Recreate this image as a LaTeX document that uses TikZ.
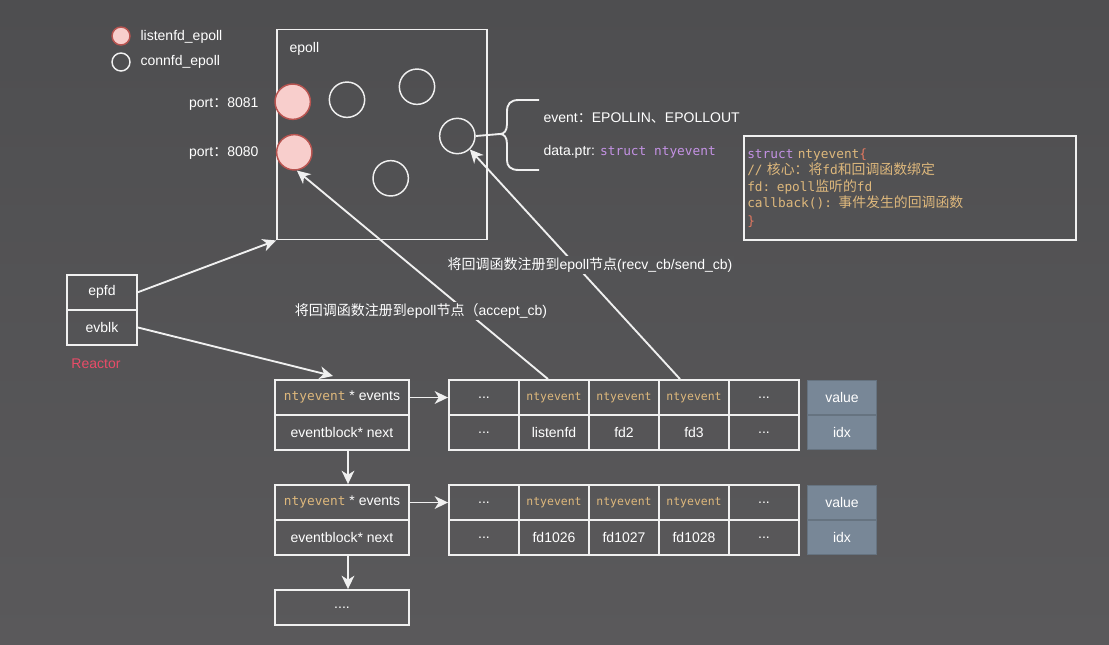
\documentclass[tikz,border=0pt]{standalone}
\usepackage{fontspec}
\setmainfont{Liberation Sans}
\setmonofont{DejaVu Sans Mono}
\newfontfamily\cjk{Noto Sans CJK SC}
\usetikzlibrary{arrows.meta}

\definecolor{fondo}{RGB}{78,78,80}
\definecolor{fondob}{RGB}{90,89,91}
\colorlet{fondom}{fondo!55!fondob}
\definecolor{linea}{RGB}{240,240,240}
\definecolor{rosa}{RGB}{248,206,204}
\definecolor{rosaborde}{RGB}{184,84,80}
\definecolor{tipo}{RGB}{222,184,124}
\definecolor{clave}{RGB}{196,146,228}
\definecolor{llave}{RGB}{226,120,96}
\definecolor{pizarra}{RGB}{120,135,151}
\definecolor{rojo}{RGB}{233,76,104}

\newcommand{\nty}{{\ttfamily\fontsize{9.6}{12}\selectfont\color{tipo}ntyevent}}
\newcommand{\ntyc}{{\ttfamily\fontsize{8.6}{10}\selectfont\color{tipo}ntyevent}}
\newcommand{\cjkc}{\cjk\fontsize{10.4}{12.4}\selectfont}

\begin{document}
\begin{tikzpicture}[x=0.75pt,y=-0.75pt,
    >={Stealth[length=10pt,width=9.5pt,inset=3pt]},
    texto/.style={text=white,font=\fontsize{10.5}{12}\selectfont,inner sep=1pt},
    caja/.style={texto,draw=linea,line width=1.4pt,minimum height=26.25pt,inner sep=0pt},
    celda/.style={caja,minimum width=52.5pt},
    ancha/.style={caja,minimum width=100.5pt},
    tabla/.style={texto,draw=pizarra!85!black,fill=pizarra,line width=0.8pt,minimum width=51.75pt,minimum height=25.5pt},
    conn/.style={circle,draw=linea,line width=1.1pt,minimum size=26.5pt,inner sep=0pt},
    listen/.style={circle,draw=rosaborde,fill=rosa,line width=1.1pt,minimum size=26.5pt,inner sep=0pt},
    flecha/.style={draw=linea,line width=1.4pt,->}]

    % Fondo
    \shade[top color=fondo,bottom color=fondob] (0,0) rectangle (1109,644);
    \useasboundingbox (0,0) rectangle (1109,644);

    % Leyenda
    \node[listen,minimum size=13.5pt] (leyl) at (121,36) {};
    \node[texto,anchor=west] (leylt) at (139,37) {listenfd\_epoll};
    \node[conn,minimum size=13.5pt] (leyc) at (121,62) {};
    \node[texto,anchor=west] (leyct) at (139,62) {connfd\_epoll};

    % Caja epoll con sus nodos
    \node[draw=linea,line width=1.4pt,minimum size=157.5pt,inner sep=0pt] (epoll) at (382,134.5) {};
    \node[texto,anchor=west] (epollt) at (288,49) {epoll};
    \node[listen] (p8081) at (292.7,101.7) {};
    \node[listen] (p8080) at (294.3,152.3) {};
    \node[conn] (c1) at (347,99.7) {};
    \node[conn] (c2) at (417,86.7) {};
    \node[conn] (c3) at (457.3,136) {};
    \node[conn] (c4) at (390.7,178.3) {};
    \node[texto,anchor=east] (l8081) at (260,104) {port{\cjk ：}8081};
    \node[texto,anchor=east] (l8080) at (260,153) {port{\cjk ：}8080};

    % Llave con los campos del evento
    \coordinate (punta) at (500,134);
    \draw[linea,line width=1.4pt] (c3.east) -- (punta);
    \draw[linea,line width=1.4pt] (539,100) -- (519,100) .. controls (510,100) and (507,104) .. (507,112)
        -- (507,124) .. controls (507,131) and (504,134) .. (punta)
        .. controls (504,134) and (507,137) .. (507,144) -- (507,160)
        .. controls (507,166) and (510,170) .. (519,170) -- (539,170);
    \node[texto,anchor=west] (evento) at (542,118) {event{\cjk ：}EPOLLIN{\cjk 、}EPOLLOUT};
    \node[texto,anchor=west] (datos) at (542,152) {data.ptr: {\ttfamily\fontsize{9.6}{12}\selectfont\color{clave}struct ntyevent}};

    % Estructura ntyevent
    \node[draw=linea,line width=1.4pt,anchor=north west,minimum width=249pt,minimum height=78pt,
          text width=244pt,inner xsep=2.5pt,align=left,text=tipo,
          font=\ttfamily\fontsize{9.6}{12.4}\selectfont] (codigo) at (743,135)
        {{\color{clave}struct} ntyevent{\color{llave}\{}\\
         // {\cjkc 核心：将}fd{\cjkc 和回调函数绑定}\\
         fd: epoll{\cjkc 监听的}fd\\
         callback(): {\cjkc 事件发生的回调函数}\\[1pt]
         {\color{llave}\}}};

    % Reactor
    \node[celda] (epfd) at (102,292.2) {epfd};
    \node[celda] (evblk) at (102,327.5) {evblk};
    \node[texto,text=rojo] (reactor) at (96,364) {Reactor};

    % Primer eventblock
    \node[ancha] (ev1) at (342,397.5) {\nty{} * events};
    \node[ancha] (nx1) at (342,432.5) {eventblock* next};
    \node[celda] (a11) at (484,397.5) {...};
    \node[celda] (a12) at (554,397.5) {\ntyc};
    \node[celda] (a13) at (624,397.5) {\ntyc};
    \node[celda] (a14) at (694,397.5) {\ntyc};
    \node[celda] (a15) at (764,397.5) {...};
    \node[celda] (b11) at (484,432.5) {...};
    \node[celda] (b12) at (554,432.5) {listenfd};
    \node[celda] (b13) at (624,432.5) {fd2};
    \node[celda] (b14) at (694,432.5) {fd3};
    \node[celda] (b15) at (764,432.5) {...};
    \node[tabla] (v1) at (842,397.5) {value};
    \node[tabla] (i1) at (842,432.5) {idx};

    % Segundo eventblock
    \node[ancha] (ev2) at (342,502.5) {\nty{} * events};
    \node[ancha] (nx2) at (342,537.5) {eventblock* next};
    \node[celda] (a21) at (484,502.5) {...};
    \node[celda] (a22) at (554,502.5) {\ntyc};
    \node[celda] (a23) at (624,502.5) {\ntyc};
    \node[celda] (a24) at (694,502.5) {\ntyc};
    \node[celda] (a25) at (764,502.5) {...};
    \node[celda] (b21) at (484,537.5) {...};
    \node[celda] (b22) at (554,537.5) {fd1026};
    \node[celda] (b23) at (624,537.5) {fd1027};
    \node[celda] (b24) at (694,537.5) {fd1028};
    \node[celda] (b25) at (764,537.5) {...};
    \node[tabla] (v2) at (842,502.5) {value};
    \node[tabla] (i2) at (842,537.5) {idx};

    \node[ancha] (mas) at (342,607.5) {....};

    % Flechas
    \coordinate (llegada) at (333,376);
    \draw[flecha] (epfd.east) -- (epoll.south west);
    \draw[flecha] (evblk.east) -- (llegada);
    \draw[flecha] (ev1.east) -- (a11.west);
    \draw[flecha] (ev2.east) -- (a21.west);
    \draw[flecha] ([xshift=4.5pt]nx1.south) -- ([xshift=4.5pt]ev2.north);
    \draw[flecha] ([xshift=4.5pt]nx2.south) -- ([xshift=4.5pt]mas.north);
    \draw[flecha] ([xshift=-4.5pt]a12.north) -- (p8080.-82);
    \draw[flecha] ([xshift=-10.5pt]a14.north) -- (c3.-47);

    % Etiquetas de registro
    \node[texto,fill=fondom] (recv) at (590,265) {{\cjk 将回调函数注册到}epoll{\cjk 节点}(recv\_cb/send\_cb)};
    \node[texto,fill=fondom] (acc) at (421,311) {{\cjk 将回调函数注册到}epoll{\cjk 节点（}accept\_cb)};
\end{tikzpicture}
\end{document}
